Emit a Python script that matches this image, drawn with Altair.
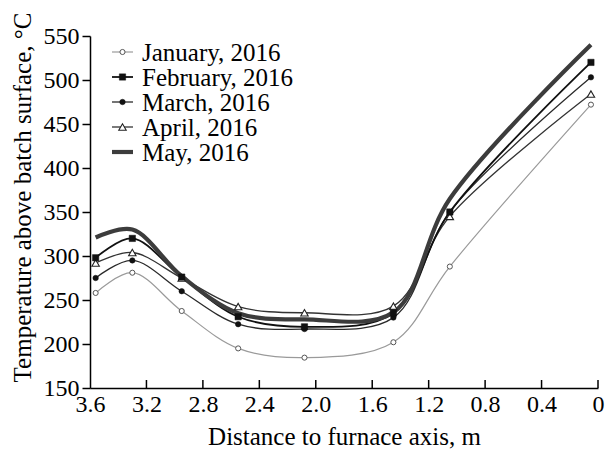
import altair as alt
import pandas as pd

# distance to furnace axis (m)
dist = [3.56, 3.30, 2.95, 2.55, 2.08, 1.45, 1.05, 0.05]
series_names = ["January, 2016", "February, 2016", "March, 2016", "April, 2016", "May, 2016"]
jan = [258, 281, 237.5, 195, 184.5, 202, 288, 472]
feb = [298, 320, 276, 231, 219.5, 235, 350, 520]
mar = [275, 295, 260, 222.5, 217, 230, 350, 503]
apr = [292, 304, 275, 242.5, 235.5, 243, 345, 484]
may = [321, 330, 277, 235, 228, 236, 365, 540]
x_ticks = [3.6, 3.2, 2.8, 2.4, 2.0, 1.6, 1.2, 0.8, 0.4, 0.0]
y_ticks = [150, 200, 250, 300, 350, 400, 450, 500, 550]

values = [jan, feb, mar, apr, may]
rows = []
for name, vals in zip(series_names, values):
    for d, v in zip(dist, vals):
        rows.append({"series": name, "d": d, "t": v})
df = pd.DataFrame(rows)

W, H = 508, 352
FONT = "Liberation Serif"

X = alt.X("d:Q", scale=alt.Scale(domain=[0, 3.6], reverse=True, nice=False, zero=False),
          axis=alt.Axis(values=x_ticks, ticks=False, labelPadding=4, labelFlush=False,
                        labelOverlap=False,
                        labelExpr="datum.value == 0 ? '0' : format(datum.value, '.1f')",
                        title="Distance to furnace axis, m", titlePadding=8))
Y = alt.Y("t:Q", scale=alt.Scale(domain=[150, 550], nice=False, zero=False),
          axis=alt.Axis(values=y_ticks, tickSize=8, labelPadding=3, labelFlush=False,
                        labelOverlap=False,
                        title="Temperature above batch surface, °C",
                        titleX=-68, titleY=161, titleAngle=-90,
                        titleAlign="center", titleBaseline="middle"))

styles = {
    "January, 2016": dict(line=dict(color="#9a9a9a", strokeWidth=1.2),
                          point=dict(shape="circle", filled=True, fill="white", stroke="#555", strokeWidth=1, size=26)),
    "February, 2016": dict(line=dict(color="#111", strokeWidth=1.8),
                           point=dict(shape="square", filled=True, fill="#111", stroke="#111", strokeWidth=0.5, size=40)),
    "March, 2016": dict(line=dict(color="#2a2a2a", strokeWidth=1.3),
                        point=dict(shape="circle", filled=True, fill="#111", stroke="#111", strokeWidth=0.5, size=30)),
    "April, 2016": dict(line=dict(color="#333", strokeWidth=1.3),
                        point=dict(shape="triangle-up", filled=True, fill="white", stroke="#222", strokeWidth=1.1, size=55)),
    "May, 2016": dict(line=dict(color="#3c3c3c", strokeWidth=4.2), point=None),
}

layers = []
draw_order = ["January, 2016", "April, 2016", "March, 2016", "February, 2016", "May, 2016"]
for name in draw_order:
    st = styles[name]
    layers.append(
        alt.Chart(df).transform_filter(alt.datum.series == name)
        .mark_line(interpolate="catmull-rom", **st["line"])
        .encode(x=X, y=Y, order="d:Q")
    )
for name in draw_order:
    st = styles[name]
    if st["point"] is None:
        continue
    layers.append(
        alt.Chart(df).transform_filter(alt.datum.series == name)
        .mark_point(opacity=1, **st["point"])
        .encode(x=X, y=Y)
    )

# inward x-axis ticks
tick_df = pd.DataFrame({"d": x_ticks[1:]})
layers.append(
    alt.Chart(tick_df).mark_rule(color="black", strokeWidth=1.5)
    .encode(x=X, y=alt.value(H), y2=alt.value(H - 8))
)

# legend (manual)
for i, name in enumerate(series_names):
    st = styles[name]
    yy = 16 + 25 * i
    ldf = pd.DataFrame({"series": [name]})
    layers.append(
        alt.Chart(ldf).mark_rule(**st["line"])
        .encode(x=alt.value(22), x2=alt.value(43), y=alt.value(yy))
    )
    if st["point"] is not None:
        layers.append(
            alt.Chart(ldf).mark_point(opacity=1, **st["point"])
            .encode(x=alt.value(32.5), y=alt.value(yy))
        )
    layers.append(
        alt.Chart(ldf).mark_text(align="left", baseline="middle", font=FONT, fontSize=25, color="black")
        .encode(x=alt.value(52), y=alt.value(yy + 1), text="series:N")
    )

chart = alt.layer(*layers).properties(
    width=W, height=H,
    autosize=alt.AutoSizeParams(type="none"),
    padding={"left": 90, "top": 36, "right": 7, "bottom": 68},
).configure_view(stroke=None).configure_axis(
    grid=False, domainColor="black", domainWidth=1.5, tickColor="black", tickWidth=1.5,
    labelFont=FONT, labelFontSize=24, labelColor="black",
    titleFont=FONT, titleFontSize=25, titleFontWeight="normal", titleColor="black",
)

chart.save("out.html", embed_options={"renderer": "svg", "actions": False})
